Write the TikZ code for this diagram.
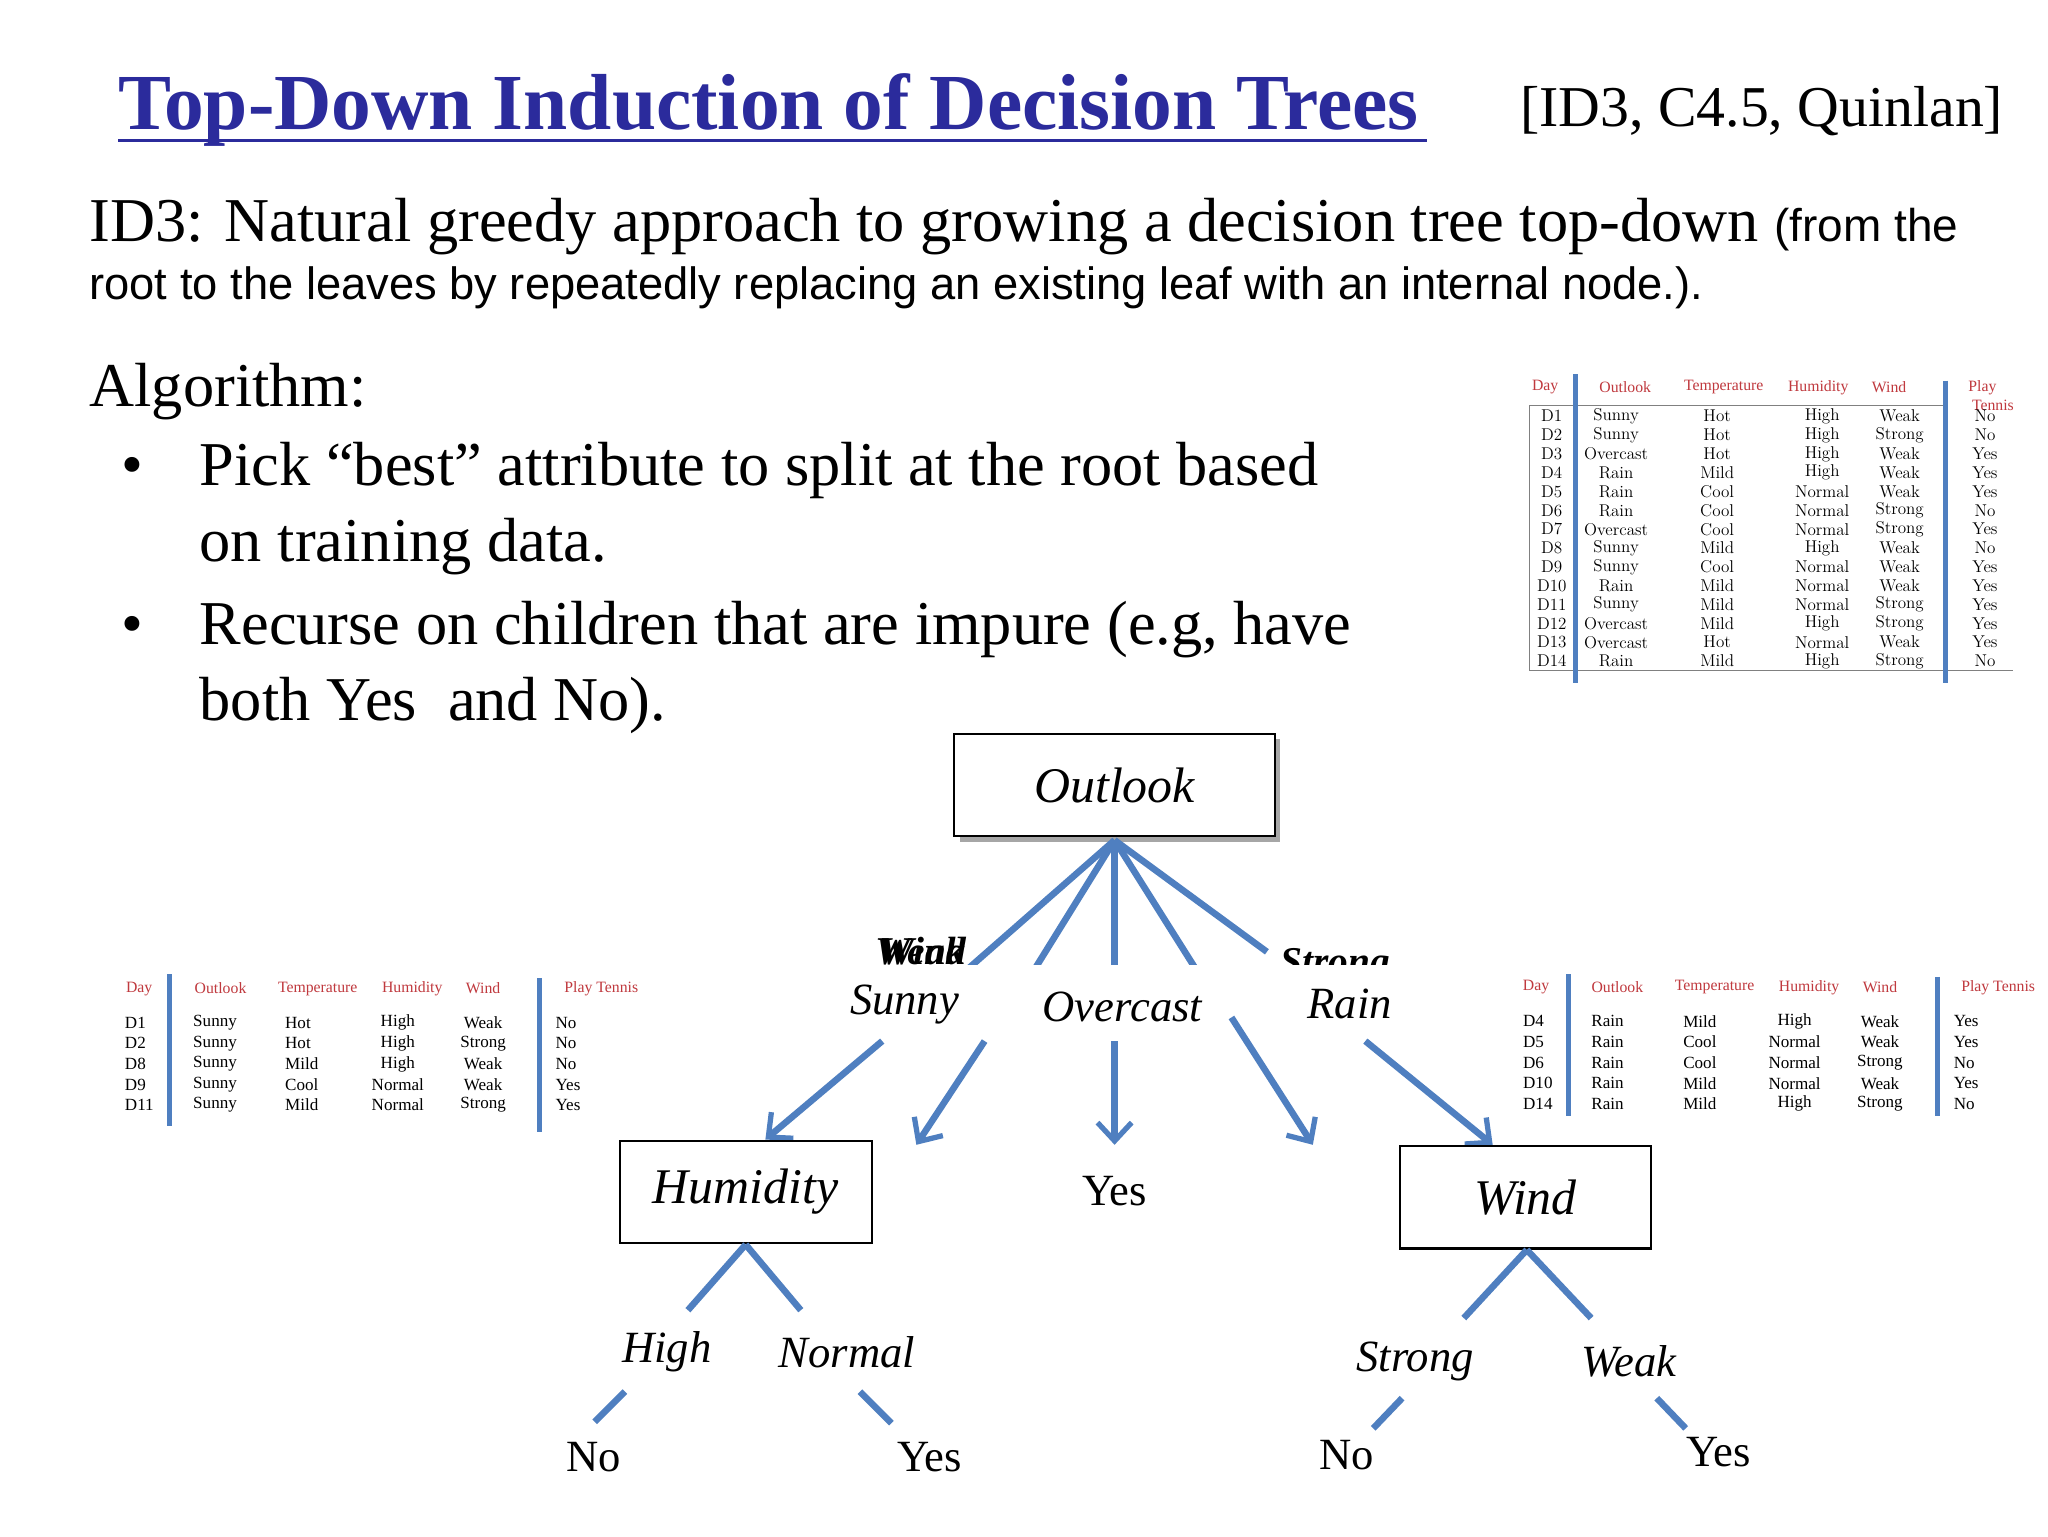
\documentclass[tikz,border=0pt]{standalone}
\usepackage{fontspec}
\setmainfont{Liberation Serif}
\setsansfont{Liberation Sans}
\usetikzlibrary{arrows.meta}
\definecolor{tblue}{HTML}{2B2B9C}
\definecolor{lblue}{HTML}{4F7FC0}
\definecolor{hred}{HTML}{C0393E}
\newfontfamily\lmfont{Latin Modern Roman}
\tikzset{
  box/.style={draw,line width=1.6pt,fill=white,minimum width=#1,minimum height=78pt,inner sep=0pt,font=\fontsize{38}{40}\selectfont\itshape},
  br/.style={lblue,line width=5pt},
  bra/.style={lblue,line width=5pt,-{Straight Barb[length=14pt,width=26pt,line width=4pt]}},
  lab/.style={font=\fontsize{34}{36}\selectfont\itshape,inner sep=0pt},
  leaf/.style={font=\fontsize{34}{36}\selectfont,inner sep=0pt},
  big/.style={font=\fontsize{47.5}{50}\selectfont,anchor=base west,inner sep=0pt},
  hdr/.style={hred,font=\fontsize{12}{12}\selectfont,inner sep=0pt},
  bigt/.style={font=\lmfont\fontsize{13}{13}\selectfont,inner sep=0pt},
  smt/.style={font=\fontsize{13}{13}\selectfont,inner sep=0pt},
}
\begin{document}
\begin{tikzpicture}[x=1pt,y=-1pt]
\useasboundingbox[fill=white] (0,0) rectangle (1560,1170);
% title
\node[anchor=base west,inner sep=0pt,text=tblue,font=\fontsize{60.5}{64}\selectfont\bfseries] (title) at (90,99) {Top-Down Induction of Decision Trees};
\draw[tblue,line width=2.5pt] (90,107) -- (1087,107);
\node[anchor=base east,inner sep=0pt,font=\fontsize{44}{48}\selectfont] (ref) at (1526,96) {[ID3, C4.5, Quinlan]};
\node[big] (l1) at (68,184) {ID3: Natural greedy approach to growing a decision tree top-down \fontsize{35}{36}\sffamily(from the};
\node[anchor=base west,inner sep=0pt,font=\sffamily\fontsize{34.5}{36}\selectfont] (l2) at (68,228) {root to the leaves by repeatedly replacing an existing leaf with an internal node.).};
\node[big] (alg) at (68,310) {Algorithm:};
\node[big] (b1) at (92,370) {•};
\node[big] (t1) at (152,370) {Pick “best” attribute to split at the root based};
\node[big] (t1b) at (152,428) {on training data.};
\node[big] (b2) at (92,491) {•};
\node[big] (t2) at (152,491) {Recurse on children that are impure (e.g, have};
\node[big] (t2b) at (152,549) {both Yes\ \ and No).};

% big table
\draw[gray,line width=0.8pt] (1165,309) -- (1483,309);
\draw[gray,line width=0.8pt] (1165,511) -- (1533,511);
\draw[gray,line width=0.8pt] (1165,309) -- (1165,511);
\draw[lblue,line width=4pt] (1200,285) -- (1200,520);
\draw[lblue,line width=4pt] (1482,290) -- (1482,520);
\foreach \t/\x in {Day/1177,Outlook/1238,Temperature/1313,Humidity/1385,Wind/1439,Play/1510}
  \node[hdr] (bh\t) at (\x,295) {\t};
\node[hdr] (bhT) at (1518,309) {Tennis};
\foreach \d/\o/\te/\h/\w/\p [count=\i from 0] in {D1/Sunny/Hot/High/Weak/No,D2/Sunny/Hot/High/Strong/No,D3/Overcast/Hot/High/Weak/Yes,D4/Rain/Mild/High/Weak/Yes,D5/Rain/Cool/Normal/Weak/Yes,D6/Rain/Cool/Normal/Strong/No,D7/Overcast/Cool/Normal/Strong/Yes,D8/Sunny/Mild/High/Weak/No,D9/Sunny/Cool/Normal/Weak/Yes,D10/Rain/Mild/Normal/Weak/Yes,D11/Sunny/Mild/Normal/Strong/Yes,D12/Overcast/Mild/High/Strong/Yes,D13/Overcast/Hot/Normal/Weak/Yes,D14/Rain/Mild/High/Strong/No}{
  \pgfmathsetmacro\yy{317+14.35*\i}
  \node[bigt] (bd\i) at (1182,\yy) {\d};
  \node[bigt] (bo\i) at (1231,\yy) {\o};
  \node[bigt] (bt\i) at (1308,\yy) {\te};
  \node[bigt] (bu\i) at (1388,\yy) {\h};
  \node[bigt] (bw\i) at (1447,\yy) {\w};
  \node[bigt] (bp\i) at (1512,\yy) {\p};
}

% left table
\draw[lblue,line width=4pt] (129,742) -- (129,858);
\draw[lblue,line width=4pt] (411,745) -- (411,862);
\foreach \t/\x [count=\k] in {Day/106,Outlook/168,Temperature/242,Humidity/314,Wind/368,Play Tennis/458}
  \node[hdr] (lh\k) at (\x,753) {\t};
\foreach \d/\o/\te/\h/\w/\p [count=\i from 0] in {D1/Sunny/Hot/High/Weak/No,D2/Sunny/Hot/High/Strong/No,D8/Sunny/Mild/High/Weak/No,D9/Sunny/Cool/Normal/Weak/Yes,D11/Sunny/Mild/Normal/Strong/Yes}{
  \pgfmathsetmacro\yy{779+15.7*\i}
  \node[smt,anchor=west] (ld\i) at (95,\yy) {\d};
  \node[smt,anchor=west] (lo\i) at (147,\yy) {\o};
  \node[smt,anchor=west] (lt\i) at (217,\yy) {\te};
  \node[smt] (lu\i) at (303,\yy) {\h};
  \node[smt] (lw\i) at (368,\yy) {\w};
  \node[smt,anchor=west] (lp\i) at (423,\yy) {\p};
}
% right table
\draw[lblue,line width=4pt] (1195,742) -- (1195,850);
\draw[lblue,line width=4pt] (1476,744) -- (1476,850);
\foreach \t/\x [count=\k] in {Day/1170,Outlook/1232,Temperature/1306,Humidity/1378,Wind/1432,Play Tennis/1522}
  \node[hdr] (rh\k) at (\x,752) {\t};
\foreach \d/\o/\te/\h/\w/\p [count=\i from 0] in {D4/Rain/Mild/High/Weak/Yes,D5/Rain/Cool/Normal/Weak/Yes,D6/Rain/Cool/Normal/Strong/No,D10/Rain/Mild/Normal/Weak/Yes,D14/Rain/Mild/High/Strong/No}{
  \pgfmathsetmacro\yy{778+15.7*\i}
  \node[smt,anchor=west] (rd\i) at (1160,\yy) {\d};
  \node[smt,anchor=west] (ro\i) at (1212,\yy) {\o};
  \node[smt,anchor=west] (rt\i) at (1282,\yy) {\te};
  \node[smt] (ru\i) at (1367,\yy) {\h};
  \node[smt] (rw\i) at (1432,\yy) {\w};
  \node[smt,anchor=west] (rp\i) at (1488,\yy) {\p};
}

% tree
\fill[gray!70] (731,563) rectangle (975,641);
\node[box=244pt] (outlook) at (849,598) {Outlook};
\coordinate (oc) at (849,640);
\coordinate (e1) at (735,740);
\coordinate (e2) at (787,740);
\coordinate (e3) at (849,740);
\coordinate (e4) at (912,740);
\coordinate (e5) at (965,725);
\foreach \e in {e1,e2,e3,e4,e5} \draw[br] (oc) -- (\e);
\node[font=\fontsize{30}{30}\selectfont\bfseries\itshape,inner sep=0pt,anchor=base] (gw) at (701,735) {Weak};
\node[font=\fontsize{30}{30}\selectfont\bfseries\itshape,inner sep=0pt,anchor=base] (gw2) at (703,735) {Wind};
\node[font=\fontsize{30}{30}\selectfont\bfseries\itshape,inner sep=0pt,anchor=base] (gs) at (1017,742) {Strong};
\fill[white] (630,735) rectangle (1085,790);
\node[lab] (sunny) at (689,765) {Sunny};
\node[lab] (overcast) at (855,767) {Overcast};
\node[lab] (rain) at (1028,765) {Rain};
\coordinate (s1) at (672,793); \coordinate (s1e) at (583,868);
\coordinate (s2) at (750,793); \coordinate (s2e) at (698,872);
\coordinate (o1) at (849,793); \coordinate (o1e) at (849,872);
\coordinate (r1) at (938,775); \coordinate (r1e) at (1000,872);
\coordinate (r2) at (1040,793); \coordinate (r2e) at (1137,872);
\draw[bra] (s1) -- (s1e);
\draw[bra] (s2) -- (s2e);
\draw[bra] (o1) -- (o1e);
\draw[bra] (r1) -- (r1e);
\draw[bra] (r2) -- (r2e);

\node[box=192pt] (hum) at (568,908) {Humidity};
\node[leaf] (yes0) at (849,907) {Yes};
\node[box=191pt] (wind) at (1162,912) {Wind};

\coordinate (h0) at (568,948);
\coordinate (h1) at (524,998); \coordinate (h2) at (610,998);
\draw[br] (h0) -- (h1); \draw[br] (h0) -- (h2);
\node[lab] (high) at (508,1030) {High};
\node[lab] (normal) at (645,1030) {Normal};
\coordinate (ha) at (476,1060); \coordinate (hb) at (453,1083);
\coordinate (hc) at (655,1060); \coordinate (hdd) at (679,1084);
\draw[br] (ha) -- (hb); \draw[br] (hc) -- (hdd);
\node[leaf] (no1) at (452,1110) {No};
\node[leaf] (yes1) at (708,1110) {Yes};

\coordinate (w0) at (1163,952);
\coordinate (w1) at (1115,1004); \coordinate (w2) at (1212,1004);
\draw[br] (w0) -- (w1); \draw[br] (w0) -- (w2);
\node[lab] (strong) at (1078,1037) {Strong};
\node[lab] (weak) at (1241,1037) {Weak};
\coordinate (wa) at (1068,1065); \coordinate (wb) at (1046,1088);
\coordinate (wc) at (1262,1065); \coordinate (wd) at (1284,1088);
\draw[br] (wa) -- (wb); \draw[br] (wc) -- (wd);
\node[leaf] (no2) at (1026,1108) {No};
\node[leaf] (yes2) at (1309,1106) {Yes};
\end{tikzpicture}
\end{document}
